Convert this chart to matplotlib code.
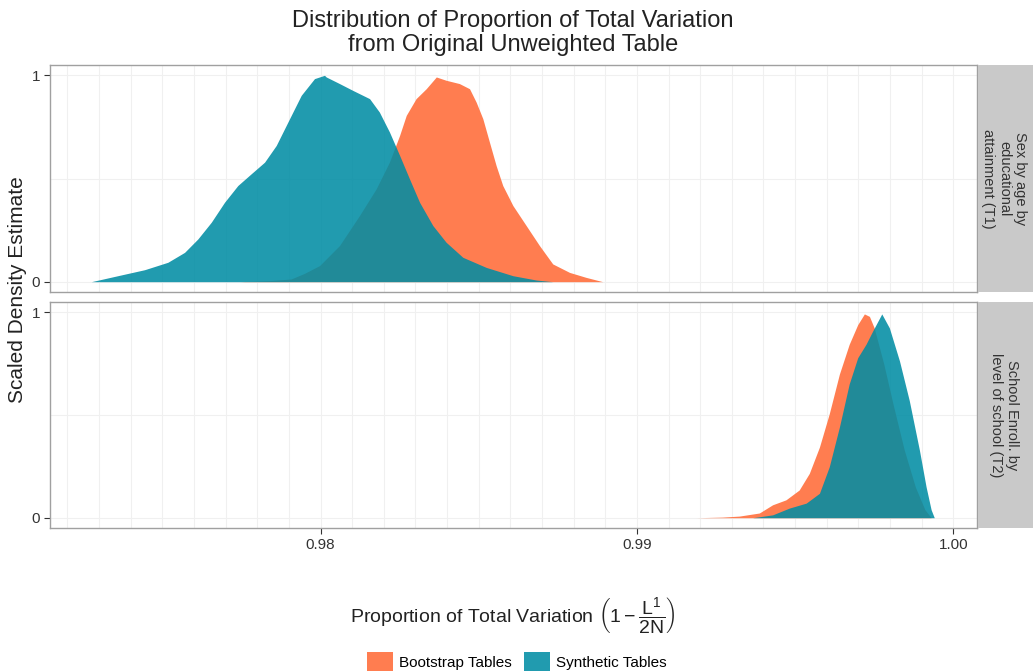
import numpy as np
import matplotlib
matplotlib.use('Agg')
import matplotlib.pyplot as plt
from matplotlib.patches import Patch

plt.rcParams['font.family'] = ['Liberation Sans', 'DejaVu Sans']
plt.rcParams['mathtext.fontset'] = 'custom'
plt.rcParams['mathtext.rm'] = 'Liberation Sans'
plt.rcParams['mathtext.it'] = 'Liberation Sans'

# density curves (x = proportion, y = scaled density)
t1_synth_x = [0.972755, 0.973595, 0.97444, 0.975175, 0.975703, 0.976123, 0.976547, 0.976967,
              0.977387, 0.97781, 0.978231, 0.9786, 0.978967, 0.97939, 0.97981, 0.980126,
              0.98018, 0.9806, 0.98102, 0.98155, 0.98186, 0.98218, 0.9825, 0.98281, 0.98313,
              0.98355, 0.98397, 0.9845, 0.98524, 0.98608, 0.98682, 0.98734]
t1_synth_y = [0.0, 0.029, 0.058, 0.094, 0.142, 0.207, 0.288, 0.385,
              0.466, 0.523, 0.579, 0.66, 0.773, 0.903, 0.984, 1.0,
              0.992, 0.96, 0.927, 0.887, 0.822, 0.725, 0.612, 0.499, 0.385,
              0.272, 0.191, 0.118, 0.069, 0.029, 0.008, 0.0]

t1_boot_x = [0.97744, 0.97839, 0.97907, 0.97949, 0.97997, 0.9806, 0.98123, 0.98176, 0.98218,
             0.9825, 0.98271, 0.98302, 0.98334, 0.98366, 0.98397, 0.98439, 0.98471, 0.98492,
             0.98513, 0.98534, 0.98555, 0.98576, 0.98608, 0.9865, 0.98692, 0.98734, 0.98787,
             0.98839, 0.98892]
t1_boot_y = [0.0, 0.005, 0.013, 0.04, 0.078, 0.175, 0.32, 0.45, 0.58,
             0.709, 0.806, 0.887, 0.935, 0.992, 0.976, 0.96, 0.935, 0.87,
             0.79, 0.676, 0.563, 0.466, 0.369, 0.272, 0.175, 0.086, 0.045,
             0.021, 0.0]

t2_boot_x = [0.99188, 0.9927, 0.99324, 0.99387, 0.99429, 0.99471, 0.99513, 0.99545, 0.99577,
             0.99608, 0.9964, 0.99671, 0.99698, 0.99719, 0.99735, 0.9975, 0.9978, 0.9981,
             0.99845, 0.9988, 0.9991, 0.9993]
t2_boot_y = [0.0, 0.003, 0.008, 0.023, 0.063, 0.087, 0.135, 0.216, 0.344,
             0.506, 0.699, 0.844, 0.94, 0.992, 0.98, 0.924, 0.75, 0.55,
             0.33, 0.15, 0.04, 0.0]

t2_synth_x = [0.99366, 0.99429, 0.99482, 0.99535, 0.99577, 0.99608, 0.9964, 0.99671, 0.99698,
              0.99724, 0.99745, 0.99774, 0.99798, 0.9983, 0.99861, 0.99893, 0.99914, 0.9993,
              0.9994]
t2_synth_y = [0.0, 0.014, 0.047, 0.071, 0.119, 0.248, 0.441, 0.651, 0.779,
              0.844, 0.908, 0.992, 0.924, 0.763, 0.57, 0.329, 0.151, 0.039,
              0.0]

facets = ['Sex by age by\neducational\nattainment (T1)', 'School Enroll. by\nlevel of school (T2)']
series = ['Bootstrap Tables', 'Synthetic Tables']
x_ticks = [0.98, 0.99, 1.00]
x_ticklabels = ['0.98', '0.99', '1.00']

orange = '#FF7D50'
teal = (0.0, 0.55, 0.64, 0.87)

W, H = 1033, 671
fig = plt.figure(figsize=(W / 100, H / 100), dpi=100)

panels = [(65, 292), (302, 528)]
data = [((t1_boot_x, t1_boot_y), (t1_synth_x, t1_synth_y)),
        ((t2_boot_x, t2_boot_y), (t2_synth_x, t2_synth_y))]

for i, ((top, bot), (boot, synth)) in enumerate(zip(panels, data)):
    ax = fig.add_axes([50 / W, (H - bot) / H, 927 / W, (bot - top) / H])
    ax.set_xlim(0.97145, 1.00075)
    ax.set_ylim(-0.05, 1.05)
    for g in np.arange(0.972, 1.0005, 0.001):
        ax.axvline(g, color='#f0f0f0', lw=0.8, zorder=0)
    for g in [0, 0.5, 1]:
        ax.axhline(g, color='#f0f0f0', lw=0.8, zorder=0)
    ax.fill_between(boot[0], boot[1], 0, color=orange, lw=0, zorder=2)
    ax.fill_between(synth[0], synth[1], 0, color=teal, lw=0, zorder=3)
    ax.set_yticks([0, 1])
    ax.set_yticklabels(['0', '1'])
    ax.set_xticks(x_ticks)
    ax.tick_params(colors='#333333', labelsize=11, width=0.8, length=4, pad=3)
    if i == 1:
        ax.set_xticklabels(x_ticklabels)
    else:
        ax.set_xticklabels([])
        ax.tick_params(axis='x', length=0)
    for s in ax.spines.values():
        s.set_color('#a0a0a0')
        s.set_linewidth(1)

    # facet strip on the right
    sax = fig.add_axes([978 / W, (H - bot) / H, 60 / W, (bot - top) / H])
    sax.set_facecolor('#c9c9c9')
    sax.set_xticks([])
    sax.set_yticks([])
    for s in sax.spines.values():
        s.set_visible(False)
    sax.text(26 / 60, 0.5, facets[i], rotation=270, ha='center', va='center',
             multialignment='center', fontsize=10.5, color='#333333',
             transform=sax.transAxes, linespacing=1.15)

fig.text(513 / W, 1 - 33 / H, 'Distribution of Proportion of Total Variation\nfrom Original Unweighted Table',
         ha='center', va='center', fontsize=17, color='#222222', linespacing=1.15)

fig.text(18 / W, 1 - 290 / H, 'Scaled Density Estimate', rotation=90, ha='center', va='center',
         fontsize=15, color='#222222')

fig.text(513 / W, 1 - 616 / H,
         r'Proportion of Total Variation $\left(1-\dfrac{\mathrm{L}^{1}}{\mathrm{2N}}\right)$',
         ha='center', va='center', fontsize=14, color='#222222')

handles = [Patch(facecolor=orange, edgecolor='none'), Patch(facecolor=teal, edgecolor='none')]
fig.legend(handles, series, loc='center', bbox_to_anchor=(0.5, 9 / H), ncol=2, frameon=False,
           fontsize=11, handlelength=1.7, handleheight=1.7, handletextpad=0.4, columnspacing=0.8)

fig.savefig('out.png', dpi=100)
